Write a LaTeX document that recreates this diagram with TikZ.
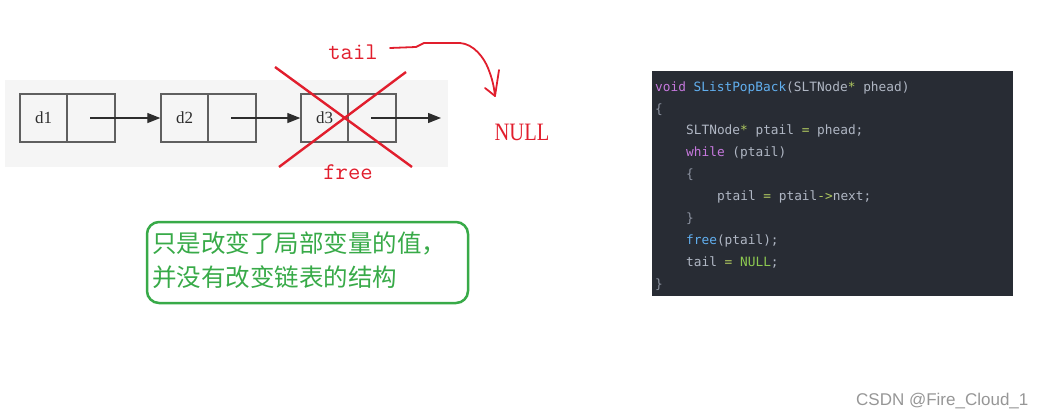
\documentclass[tikz,border=0pt]{standalone}
\usepackage{fontspec}
\usepackage{graphicx}
\usetikzlibrary{arrows.meta}
\newfontfamily\cjkfont{Noto Sans CJK SC}
\newfontfamily\codefont{DejaVu Sans Mono}
\newfontfamily\seriffont{Liberation Serif}
\newfontfamily\wmfont{Liberation Sans}
\definecolor{bggray}{RGB}{245,245,245}
\definecolor{boxline}{RGB}{95,95,95}
\definecolor{arrowgray}{RGB}{45,45,45}
\definecolor{redmark}{RGB}{225,30,45}
\definecolor{greenmark}{RGB}{56,170,72}
\definecolor{codebg}{RGB}{40,44,52}
\definecolor{codefg}{RGB}{176,183,196}
\definecolor{kw}{RGB}{198,120,221}
\definecolor{fn}{RGB}{97,175,239}
\definecolor{op}{RGB}{175,200,95}
\definecolor{nul}{RGB}{140,200,80}
\definecolor{brace}{RGB}{140,146,160}
\definecolor{wmgray}{RGB}{150,150,150}
\tikzset{
  cell/.style={draw=boxline, line width=1.4pt, minimum height=48pt, inner sep=0pt,
    font=\seriffont\fontsize{17}{20}\selectfont, text=arrowgray},
  datacell/.style={cell, minimum width=47pt},
  nextcell/.style={cell, minimum width=48pt},
  linkarrow/.style={draw=arrowgray, line width=1.3pt, -{Triangle[length=13pt,width=10pt]}},
  redtext/.style={text=redmark, inner sep=0pt, font=\ttfamily\fontsize{24}{28}\selectfont},
  redline/.style={draw=redmark, line width=2.4pt},
  redpen/.style={draw=redmark, line width=1.8pt, line join=round, line cap=round},
  codeline/.style={anchor=west, inner sep=0pt, font=\codefont\fontsize{12.8}{15}\selectfont,
    text=codefg, text height=9.5pt, text depth=2.5pt},
}
\begin{document}
\begin{tikzpicture}[x=1pt,y=-1pt]
\useasboundingbox (0,0) rectangle (1043,418);
% linked list background
\fill[bggray] (5,80) rectangle (448,167);
% nodes
\node[datacell] (d1) at (43.5,118) {d1};
\node[nextcell] (d1n) at (91,118) {};
\node[datacell] (d2) at (184.5,118) {d2};
\node[nextcell] (d2n) at (232,118) {};
\node[datacell] (d3) at (324.5,118) {d3};
\node[nextcell] (d3n) at (372,118) {};
\coordinate (end3) at (441,118);
\draw[linkarrow] ([xshift=-1pt]d1n.center) -- (d2.west);
\draw[linkarrow] ([xshift=-1pt]d2n.center) -- (d3.west);
\draw[linkarrow] ([xshift=-1pt]d3n.center) -- (end3);
% red cross
\coordinate (x1a) at (275,67);
\coordinate (x1b) at (412,167);
\coordinate (x2a) at (406,72);
\coordinate (x2b) at (279,167);
\draw[redline] (x1a) -- (x1b);
\draw[redline] (x2a) -- (x2b);
% labels
\node[redtext] (tail) at (353,52) {tail};
\node[redtext] (free) at (348,172) {free};
\node[text=redmark, inner sep=0pt, font=\seriffont\fontsize{20.5}{24}\selectfont] (null) at (522,132) {\scalebox{1}[1.22]{NULL}};
% hand-drawn arrow from tail
\coordinate (t0) at (390,48);
\coordinate (tip) at (495,96);
\coordinate (hl) at (485,88);
\coordinate (hr) at (499,70);
\draw[redpen] (t0) -- (416,47) -- (424,43) -- (460,43)
  .. controls (474,44) and (484,58) .. (488,68)
  .. controls (492,78) and (494,86) .. (tip);
\draw[redpen] (hl) -- (tip) -- (hr);
% green note
\node[draw=greenmark, line width=2.5pt, rounded corners=12pt, minimum width=321pt,
  minimum height=81pt, inner sep=0pt] (note) at (307.5,262.5) {};
\node[anchor=west, inner sep=0pt, text=greenmark, font=\cjkfont\fontsize{24.5}{28}\selectfont] (n1) at (152,243) {只是改变了局部变量的值，};
\node[anchor=west, inner sep=0pt, text=greenmark, font=\cjkfont\fontsize{24.5}{28}\selectfont] (n2) at (152,277) {并没有改变链表的结构};
% code panel
\node[fill=codebg, minimum width=361pt, minimum height=225pt, inner sep=0pt] (code) at (832.5,183.5) {};
\node[codeline] (c1) at (655,88) {\textcolor{kw}{void} \textcolor{fn}{SListPopBack}(SLTNode\textcolor{op}{*} phead)};
\node[codeline, text=brace] (c2) at (655,110) {\{};
\node[codeline] (c3) at (686,131) {SLTNode\textcolor{op}{*} ptail \textcolor{op}{=} phead;};
\node[codeline] (c4) at (686,153) {\textcolor{kw}{while} (ptail)};
\node[codeline, text=brace] (c5) at (686,175) {\{};
\node[codeline] (c6) at (717,197) {ptail \textcolor{op}{=} ptail\textcolor{op}{->}next;};
\node[codeline, text=brace] (c7) at (686,219) {\}};
\node[codeline] (c8) at (686,241) {\textcolor{fn}{free}(ptail);};
\node[codeline] (c9) at (686,263) {tail \textcolor{op}{=} \textcolor{nul}{NULL};};
\node[codeline, text=brace] (c10) at (655,285) {\}};
% watermark
\node[anchor=west, inner sep=0pt, text=wmgray, font=\wmfont\fontsize{17}{19}\selectfont] (wm) at (856,401) {CSDN @Fire\_Cloud\_1};
\end{tikzpicture}
\end{document}
